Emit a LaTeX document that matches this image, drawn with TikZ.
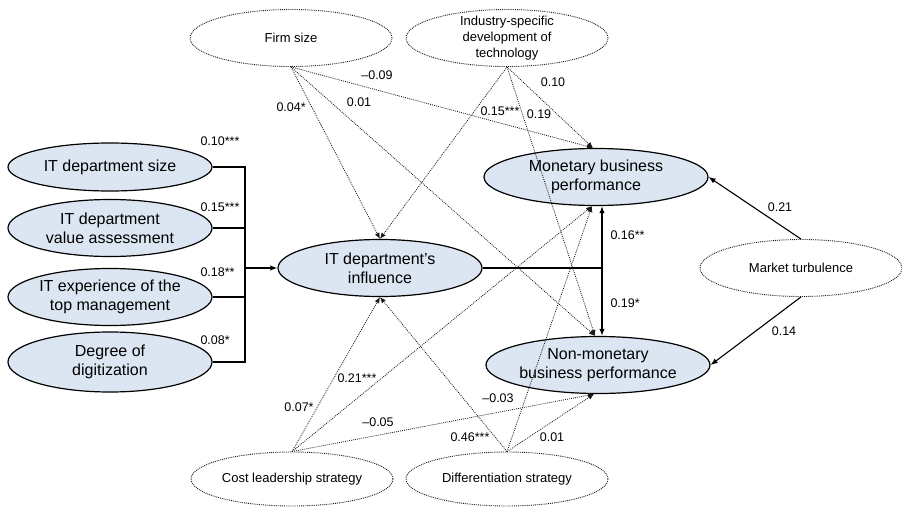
\documentclass[tikz,border=0pt]{standalone}
\usepackage{fontspec}
\setmainfont{Liberation Sans}
\usetikzlibrary{arrows.meta, positioning, shapes.geometric}
\definecolor{mainfill}{HTML}{DCE6F2}
\definecolor{dotgray}{HTML}{1A1A1A}

\begin{document}
\begin{tikzpicture}[
  x=1pt, y=-1pt,
  every node/.style={font=\fontsize{12.5}{15}\selectfont},
  mainbox/.style={ellipse, draw, line width=1.2pt, fill=mainfill, inner sep=0pt, minimum width=204pt, minimum height=57pt},
  ctrlbox/.style={ellipse, draw=dotgray, line width=0.9pt, dash pattern=on 0.9pt off 1pt, inner sep=0pt, minimum width=202pt, minimum height=57pt},
  maintxt/.style={font=\fontsize{16}{19}\selectfont, align=center},
  ctrltxt/.style={font=\fontsize{13}{15.7}\selectfont, align=center},
  mainlink/.style={line width=1.4pt},
  mainarrow/.style={line width=1.4pt, -{Latex[length=7pt,width=5.5pt]}},
  ctrlarrow/.style={draw=dotgray, line width=0.8pt, dash pattern=on 0.9pt off 1.1pt, -{Latex[length=6pt,width=5pt]}},
]
\useasboundingbox (0,0) rectangle (902,506);

% antecedents
\node[mainbox, minimum height=48pt, label={[maintxt]center:IT department size}] (size) at (110,167) {};
\node[mainbox, label={[maintxt]center:{IT department\\value assessment}}] (value) at (110,228) {};
\node[mainbox, label={[maintxt]center:{IT experience of the\\top management}}] (exper) at (110,297) {};
\node[mainbox, minimum height=60pt, label={[maintxt]center:{Degree of\\digitization}}] (digit) at (110,362) {};

% mediator and outcomes
\node[mainbox, label={[maintxt]center:{IT department's\\influence}}] (infl) at (380,268) {};
\node[mainbox, minimum width=224pt, label={[maintxt]center:{Monetary business\\performance}}] (monet) at (596,177) {};
\node[mainbox, minimum width=224pt, label={[maintxt]center:{Non-monetary\\business performance}}] (nonmon) at (598,365) {};

% controls
\node[ctrlbox, label={[ctrltxt]center:Firm size}] (firm) at (291,38) {};
\node[ctrlbox, label={[ctrltxt]center:{Industry-specific\\development of\\technology}}] (indus) at (507,38) {};
\node[ctrlbox, label={[ctrltxt]center:Market turbulence}] (market) at (801,268) {};
\node[ctrlbox, minimum height=54pt, label={[ctrltxt]center:Cost leadership strategy}] (cost) at (292,479) {};
\node[ctrlbox, minimum height=54pt, label={[ctrltxt]center:Differentiation strategy}] (diff) at (507,479) {};

% bus into the mediator
\coordinate (bus) at (245,268);
\coordinate (split) at (602,268);
\draw[mainlink] (size.east) -| (bus) |- (digit.east);
\draw[mainlink] (value.east) -- (value.east -| bus);
\draw[mainlink] (exper.east) -- (exper.east -| bus);
\draw[mainarrow] (bus) -- (infl.west);
\draw[mainlink] (infl.east) -- (split);
\draw[mainarrow] (split) -- (split |- monet.south);
\draw[mainarrow] (split) -- (split |- nonmon.north);
\draw[mainarrow, line width=1.1pt] (market.north) -- (monet.east);
\draw[mainarrow, line width=1.1pt] (market.south) -- (nonmon.east);

% control paths
\foreach \src in {firm, indus} {
  \draw[ctrlarrow] (\src.south) -- (infl.north);
  \draw[ctrlarrow] (\src.south) -- ([xshift=-3pt]monet.north);
  \draw[ctrlarrow] (\src.south) -- ([xshift=-3pt]nonmon.north);
}
\foreach \src in {cost, diff} {
  \draw[ctrlarrow] (\src.north) -- (infl.south);
  \draw[ctrlarrow] (\src.north) -- ([xshift=-4pt]monet.south);
  \draw[ctrlarrow] (\src.north) -- ([xshift=-4pt]nonmon.south);
}

% coefficients
\node[anchor=west] (c1) at (197,141) {0.10***};
\node[anchor=west] (c2) at (197,207) {0.15***};
\node[anchor=west] (c3) at (197,272) {0.18**};
\node[anchor=west] (c4) at (197,340) {0.08*};
\node[anchor=west] (c5) at (273,107) {0.04*};
\node (c6) at (359,102) {0.01};
\node (c7) at (377,75) {--0.09};
\node (c8) at (500,111) {0.15***};
\node (c9) at (539,114) {0.19};
\node (c10) at (553,82) {0.10};
\node[anchor=west] (c11) at (607,235) {0.16**};
\node[anchor=west] (c12) at (607,303) {0.19*};
\node (c13) at (780,207) {0.21};
\node (c14) at (784,331) {0.14};
\node (c15) at (299,407) {0.07*};
\node (c16) at (357,378) {0.21***};
\node (c17) at (378,422) {--0.05};
\node (c18) at (498,398) {--0.03};
\node (c19) at (470,437) {0.46***};
\node (c20) at (552,437) {0.01};
\end{tikzpicture}
\end{document}
